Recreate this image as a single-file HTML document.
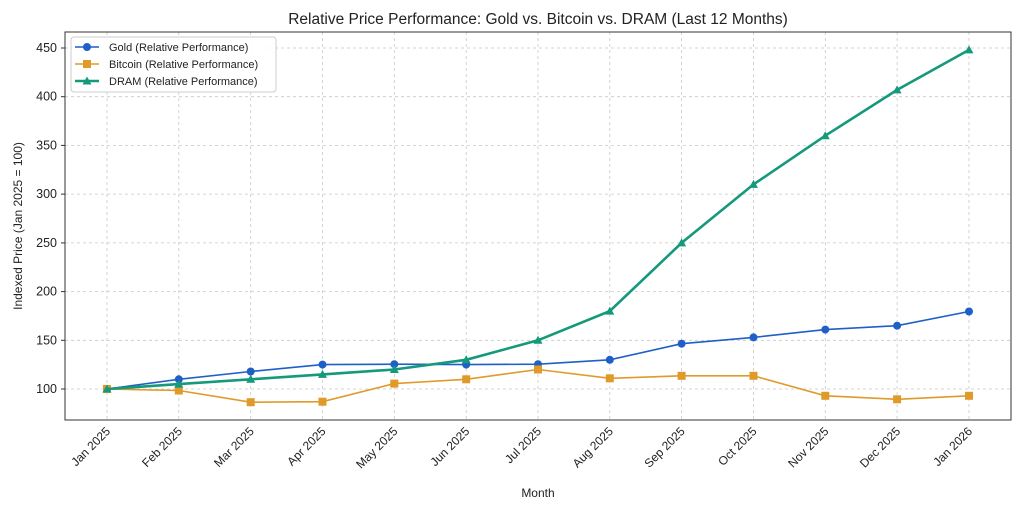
<!DOCTYPE html>
<html><head><meta charset="utf-8"><style>body{margin:0;background:#fff}svg{display:block}text{font-family:"Liberation Sans",sans-serif;fill:#222}</style></head><body>
<svg width="1024" height="512" xmlns="http://www.w3.org/2000/svg">
<text x="538" y="24" font-size="15.5" text-anchor="middle">Relative Price Performance: Gold vs. Bitcoin vs. DRAM (Last 12 Months)</text>
<g stroke="#c8c8c8" stroke-dasharray="3,3" stroke-width="0.8">
<line x1="107" y1="32" x2="107" y2="420"/><line x1="178.8" y1="32" x2="178.8" y2="420"/><line x1="250.7" y1="32" x2="250.7" y2="420"/><line x1="322.5" y1="32" x2="322.5" y2="420"/><line x1="394.3" y1="32" x2="394.3" y2="420"/><line x1="466.2" y1="32" x2="466.2" y2="420"/><line x1="538" y1="32" x2="538" y2="420"/><line x1="609.8" y1="32" x2="609.8" y2="420"/><line x1="681.6" y1="32" x2="681.6" y2="420"/><line x1="753.5" y1="32" x2="753.5" y2="420"/><line x1="825.3" y1="32" x2="825.3" y2="420"/><line x1="897.1" y1="32" x2="897.1" y2="420"/><line x1="969" y1="32" x2="969" y2="420"/>
<line x1="65" y1="389" x2="1011" y2="389"/><line x1="65" y1="340.3" x2="1011" y2="340.3"/><line x1="65" y1="291.6" x2="1011" y2="291.6"/><line x1="65" y1="242.9" x2="1011" y2="242.9"/><line x1="65" y1="194.1" x2="1011" y2="194.1"/><line x1="65" y1="145.4" x2="1011" y2="145.4"/><line x1="65" y1="96.7" x2="1011" y2="96.7"/><line x1="65" y1="48" x2="1011" y2="48"/>
</g>
<rect x="65" y="32" width="946" height="388" fill="none" stroke="#333" stroke-width="1"/>
<g font-size="12.5" text-anchor="end">
<text x="57" y="393">100</text><text x="57" y="344.3">150</text><text x="57" y="295.6">200</text><text x="57" y="246.9">250</text><text x="57" y="198.1">300</text><text x="57" y="149.4">350</text><text x="57" y="100.7">400</text><text x="57" y="52">450</text>
</g>
<g stroke="#333"><line x1="61" y1="389" x2="65" y2="389"/><line x1="61" y1="340.3" x2="65" y2="340.3"/><line x1="61" y1="291.6" x2="65" y2="291.6"/><line x1="61" y1="242.9" x2="65" y2="242.9"/><line x1="61" y1="194.1" x2="65" y2="194.1"/><line x1="61" y1="145.4" x2="65" y2="145.4"/><line x1="61" y1="96.7" x2="65" y2="96.7"/><line x1="61" y1="48" x2="65" y2="48"/></g>
<g font-size="12" text-anchor="end">
<text transform="translate(111,432) rotate(-45)">Jan 2025</text><text transform="translate(182.8,432) rotate(-45)">Feb 2025</text><text transform="translate(254.7,432) rotate(-45)">Mar 2025</text><text transform="translate(326.5,432) rotate(-45)">Apr 2025</text><text transform="translate(398.3,432) rotate(-45)">May 2025</text><text transform="translate(470.2,432) rotate(-45)">Jun 2025</text><text transform="translate(542,432) rotate(-45)">Jul 2025</text><text transform="translate(613.8,432) rotate(-45)">Aug 2025</text><text transform="translate(685.6,432) rotate(-45)">Sep 2025</text><text transform="translate(757.5,432) rotate(-45)">Oct 2025</text><text transform="translate(829.3,432) rotate(-45)">Nov 2025</text><text transform="translate(901.1,432) rotate(-45)">Dec 2025</text><text transform="translate(973,432) rotate(-45)">Jan 2026</text>
</g>
<text x="538" y="497" font-size="12" text-anchor="middle">Month</text>
<text transform="translate(22,226) rotate(-90)" font-size="12" text-anchor="middle">Indexed Price (Jan 2025 = 100)</text>
<polyline fill="none" stroke="#1f5fc8" stroke-width="1.6" points="107,389 178.8,379.3 250.7,371.5 322.5,364.6 394.3,364.2 466.2,364.6 538,364.2 609.8,359.8 681.6,343.7 753.5,337.4 825.3,329.6 897.1,325.7 969,311.5"/>
<g fill="#1f5fc8"><circle cx="107" cy="389" r="4"/><circle cx="178.8" cy="379.3" r="4"/><circle cx="250.7" cy="371.5" r="4"/><circle cx="322.5" cy="364.6" r="4"/><circle cx="394.3" cy="364.2" r="4"/><circle cx="466.2" cy="364.6" r="4"/><circle cx="538" cy="364.2" r="4"/><circle cx="609.8" cy="359.8" r="4"/><circle cx="681.6" cy="343.7" r="4"/><circle cx="753.5" cy="337.4" r="4"/><circle cx="825.3" cy="329.6" r="4"/><circle cx="897.1" cy="325.7" r="4"/><circle cx="969" cy="311.5" r="4"/></g>
<polyline fill="none" stroke="#e09a2a" stroke-width="1.6" points="107,389 178.8,390.5 250.7,402.2 322.5,401.7 394.3,383.6 466.2,379.3 538,369.5 609.8,378.3 681.6,375.8 753.5,375.8 825.3,395.8 897.1,399.3 969,395.8"/>
<g fill="#e09a2a"><rect x="103" y="385" width="8" height="8"/><rect x="174.8" y="386.5" width="8" height="8"/><rect x="246.7" y="398.2" width="8" height="8"/><rect x="318.5" y="397.7" width="8" height="8"/><rect x="390.3" y="379.6" width="8" height="8"/><rect x="462.2" y="375.3" width="8" height="8"/><rect x="534" y="365.5" width="8" height="8"/><rect x="605.8" y="374.3" width="8" height="8"/><rect x="677.6" y="371.8" width="8" height="8"/><rect x="749.5" y="371.8" width="8" height="8"/><rect x="821.3" y="391.8" width="8" height="8"/><rect x="893.1" y="395.3" width="8" height="8"/><rect x="965" y="391.8" width="8" height="8"/></g>
<polyline fill="none" stroke="#14997a" stroke-width="2.6" points="107,389 178.8,384.1 250.7,379.3 322.5,374.4 394.3,369.5 466.2,359.8 538,340.3 609.8,311.1 681.6,242.9 753.5,184.4 825.3,135.7 897.1,89.9 969,49.9"/>
<g fill="#14997a">
<path d="M107,384.5 l4.5,8 h-9z"/><path d="M178.8,379.6 l4.5,8 h-9z"/><path d="M250.7,374.8 l4.5,8 h-9z"/><path d="M322.5,369.9 l4.5,8 h-9z"/><path d="M394.3,365 l4.5,8 h-9z"/><path d="M466.2,355.3 l4.5,8 h-9z"/><path d="M538,335.8 l4.5,8 h-9z"/><path d="M609.8,306.6 l4.5,8 h-9z"/><path d="M681.6,238.4 l4.5,8 h-9z"/><path d="M753.5,179.9 l4.5,8 h-9z"/><path d="M825.3,131.2 l4.5,8 h-9z"/><path d="M897.1,85.4 l4.5,8 h-9z"/><path d="M969,45.4 l4.5,8 h-9z"/>
</g>
<rect x="71" y="37" width="205" height="55" rx="3" fill="#fff" fill-opacity="0.85" stroke="#ccc"/>
<g font-size="11">
<line x1="75" y1="47" x2="99" y2="47" stroke="#1f5fc8" stroke-width="1.6"/><circle cx="87" cy="47" r="4" fill="#1f5fc8"/><text x="109" y="51">Gold (Relative Performance)</text>
<line x1="75" y1="64" x2="99" y2="64" stroke="#e09a2a" stroke-width="1.6"/><rect x="83" y="60" width="8" height="8" fill="#e09a2a"/><text x="109" y="68">Bitcoin (Relative Performance)</text>
<line x1="75" y1="81" x2="99" y2="81" stroke="#14997a" stroke-width="2.6"/><path d="M87,76.5 l4.5,8 h-9z" fill="#14997a"/><text x="109" y="85">DRAM (Relative Performance)</text>
</g>
</svg>
</body></html>
